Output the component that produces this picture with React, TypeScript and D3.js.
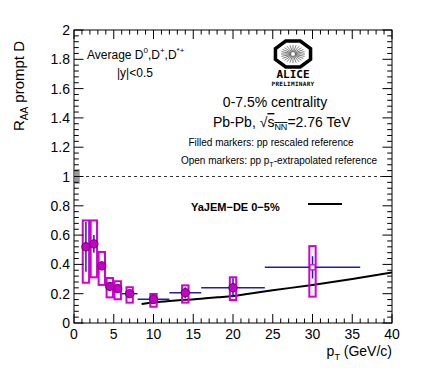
import React from 'react';
import * as d3 from 'd3';

// prompt D RAA, 0-7.5% Pb-Pb
const ptCenter = [1.5, 2.5, 3.5, 4.5, 5.5, 7, 10, 14, 20, 30];
const ptLow = [1, 2, 3, 4, 5, 6, 8, 12, 16, 24];
const ptHigh = [2, 3, 4, 5, 6, 8, 12, 16, 24, 36];
const raa = [0.52, 0.54, 0.39, 0.25, 0.235, 0.2, 0.162, 0.207, 0.241, 0.38];
const statErr = [0.17, 0.06, 0.03, 0.03, 0.025, 0.02, 0.025, 0.037, 0.065, 0.076];
const sysHigh = [0.7, 0.7, 0.485, 0.307, 0.285, 0.244, 0.198, 0.257, 0.312, 0.525];
const sysLow = [0.275, 0.312, 0.26, 0.175, 0.162, 0.139, 0.111, 0.139, 0.157, 0.18];
const openMarker = [false, false, false, false, false, false, false, false, false, true];

// YaJEM-DE 0-5% curve
const modelPt = [8.5, 10, 12, 14, 16, 18, 20, 22, 25, 30, 35, 40];
const modelRaa = [0.13, 0.14, 0.15, 0.158, 0.165, 0.175, 0.185, 0.2, 0.223, 0.26, 0.3, 0.345];

const xTicks = [0, 5, 10, 15, 20, 25, 30, 35, 40];
const yTicks = [0, 0.2, 0.4, 0.6, 0.8, 1, 1.2, 1.4, 1.6, 1.8, 2];
const yTickLabels = ['0', '0.2', '0.4', '0.6', '0.8', '1', '1.2', '1.4', '1.6', '1.8', '2'];

const W = 436;
const H = 368;
const m = { left: 74, right: 392, top: 30, bottom: 323 };
const font = '"Liberation Sans", Arial, Helvetica, sans-serif';

const App = () => {
  const x = d3.scaleLinear().domain([0, 40]).range([m.left, m.right]);
  const y = d3.scaleLinear().domain([0, 2]).range([m.bottom, m.top]);

  const xMinor = d3.range(0, 41, 1);
  const yMinor = d3.range(0, 2.001, 0.04);

  const line = d3
    .line<number>()
    .x((d, i) => x(modelPt[i]))
    .y((d) => y(d))
    .curve(d3.curveMonotoneX);

  const boxHalf = 0.4;
  const magenta = '#d000d0';
  const blue = '#1e1ea8';

  // ALICE logo octagon
  const lx = 293, ly = 54, lr = 19, lry = 14;
  const oct = d3.range(8).map((i) => {
    const a = (Math.PI / 8) * (2 * i + 1);
    return [lx + lr * Math.cos(a), ly + lry * Math.sin(a)];
  });

  return (
    <svg width={W} height={H} style={{ position: 'absolute', left: 0, top: 0, background: '#fff' }} fontFamily={font}>
      <rect x={0} y={0} width={W} height={H} fill="#fff" />

      {/* dashed line at 1 */}
      <line x1={m.left} x2={m.right} y1={y(1)} y2={y(1)} stroke="#333" strokeDasharray="3,3" strokeWidth={1} />
      {/* normalisation box */}
      <rect x={x(0) + 1} y={y(1.05)} width={x(0.6) - x(0)} height={y(0.95) - y(1.05)} fill="#999" />

      {/* model curve */}
      <path d={line(modelRaa) || ''} fill="none" stroke="#000" strokeWidth={2} />

      {/* sys boxes */}
      {ptCenter.map((p, i) => (
        <rect
          key={'s' + i}
          x={x(p - boxHalf)}
          y={y(sysHigh[i])}
          width={x(p + boxHalf) - x(p - boxHalf)}
          height={y(sysLow[i]) - y(sysHigh[i])}
          fill="none"
          stroke={magenta}
          strokeWidth={2}
        />
      ))}

      {/* stat errors and bins */}
      {ptCenter.map((p, i) => (
        <g key={'e' + i} stroke={blue} strokeWidth={1.5}>
          <line x1={x(ptLow[i])} x2={x(ptHigh[i])} y1={y(raa[i])} y2={y(raa[i])} />
          <line x1={x(p)} x2={x(p)} y1={y(raa[i] + statErr[i])} y2={y(raa[i] - statErr[i])} />
        </g>
      ))}

      {/* markers */}
      {ptCenter.map((p, i) =>
        openMarker[i] ? (
          <rect key={'m' + i} x={x(p) - 2.5} y={y(raa[i]) - 2.5} width={5} height={5} fill="#fff" stroke={magenta} strokeWidth={1.2} />
        ) : (
          <circle key={'m' + i} cx={x(p)} cy={y(raa[i])} r={4.2} fill="#c400c4" stroke="#400040" strokeWidth={0.8} />
        )
      )}

      {/* frame */}
      <rect x={m.left} y={m.top} width={m.right - m.left} height={m.bottom - m.top} fill="none" stroke="#000" strokeWidth={1} />

      {/* x ticks */}
      {xMinor.map((v) => {
        const len = v % 5 === 0 ? 9 : 4.5;
        return (
          <g key={'xt' + v} stroke="#000" strokeWidth={1}>
            <line x1={x(v)} x2={x(v)} y1={m.bottom} y2={m.bottom - len} />
            <line x1={x(v)} x2={x(v)} y1={m.top} y2={m.top + len} />
          </g>
        );
      })}
      {/* y ticks */}
      {yMinor.map((v, i) => {
        const len = i % 5 === 0 ? 9.5 : 4.8;
        return (
          <g key={'yt' + i} stroke="#000" strokeWidth={1}>
            <line x1={m.left} x2={m.left + len} y1={y(v)} y2={y(v)} />
            <line x1={m.right} x2={m.right - len} y1={y(v)} y2={y(v)} />
          </g>
        );
      })}

      {/* tick labels */}
      {xTicks.map((v) => (
        <text key={'xl' + v} x={x(v)} y={m.bottom + 16} textAnchor="middle" fontSize={14}>
          {v}
        </text>
      ))}
      {yTicks.map((v, i) => (
        <text key={'yl' + i} x={m.left - 4} y={y(v) + 5} textAnchor="end" fontSize={14}>
          {yTickLabels[i]}
        </text>
      ))}

      {/* axis titles */}
      <text x={m.right} y={356} textAnchor="end" fontSize={14}>
        p<tspan fontSize={9} dy={4}>T</tspan>
        <tspan dy={-4}> (GeV/c)</tspan>
      </text>
      <text transform={`translate(24,${41}) rotate(-90)`} textAnchor="end" fontSize={15}>
        R<tspan fontSize={10} dy={4}>AA</tspan>
        <tspan dy={-4}> prompt D</tspan>
      </text>

      {/* annotations */}
      <text x={87} y={59} fontSize={12}>
        Average D<tspan fontSize={8} dy={-6}>0</tspan>
        <tspan dy={6}>,D</tspan>
        <tspan fontSize={8} dy={-6}>+</tspan>
        <tspan dy={6}>,D</tspan>
        <tspan fontSize={8} dy={-6}>*+</tspan>
      </text>
      <text x={117} y={77} fontSize={12}>|y|&lt;0.5</text>

      <text x={275} y={107} textAnchor="middle" fontSize={14}>0-7.5% centrality</text>
      <text x={213} y={127} fontSize={14}>
        Pb-Pb, √<tspan style={{ textDecoration: 'overline' }}>s</tspan>
        <tspan fontSize={9} dy={3} style={{ textDecoration: 'overline' }}>NN</tspan>
        <tspan dy={-3}>=2.76 TeV</tspan>
      </text>
      <text x={271} y={146} textAnchor="middle" fontSize={10}>Filled markers: pp rescaled reference</text>
      <text x={279} y={164} textAnchor="middle" fontSize={10}>
        Open markers: pp p<tspan fontSize={7} dy={3}>T</tspan>
        <tspan dy={-3}>-extrapolated reference</tspan>
      </text>

      {/* legend */}
      <text x={191} y={211} fontSize={11} fontWeight="bold">YaJEM−DE 0−5%</text>
      <line x1={308} x2={342} y1={204} y2={204} stroke="#000" strokeWidth={2} />

      {/* ALICE logo */}
      <polygon points={oct.map((d) => d.join(',')).join(' ')} fill="none" stroke="#000" strokeWidth={3.5} />
      {d3.range(24).map((i) => {
        const a = (Math.PI * 2 * i) / 24;
        return (
          <line
            key={'r' + i}
            x1={lx + 2 * Math.cos(a)}
            y1={ly + 2 * Math.sin(a)}
            x2={lx + 12 * Math.cos(a)}
            y2={ly + 9 * Math.sin(a)}
            stroke="#444"
            strokeWidth={0.7}
          />
        );
      })}
      <text x={lx} y={78} textAnchor="middle" fontSize={11} fontWeight="bold" fontFamily='"DejaVu Sans Mono", monospace'>ALICE</text>
      <text x={lx} y={86} textAnchor="middle" fontSize={6} fontWeight="bold" fontFamily='"DejaVu Sans Mono", monospace' letterSpacing={0.3}>PRELIMINARY</text>
    </svg>
  );
};

export default App;
